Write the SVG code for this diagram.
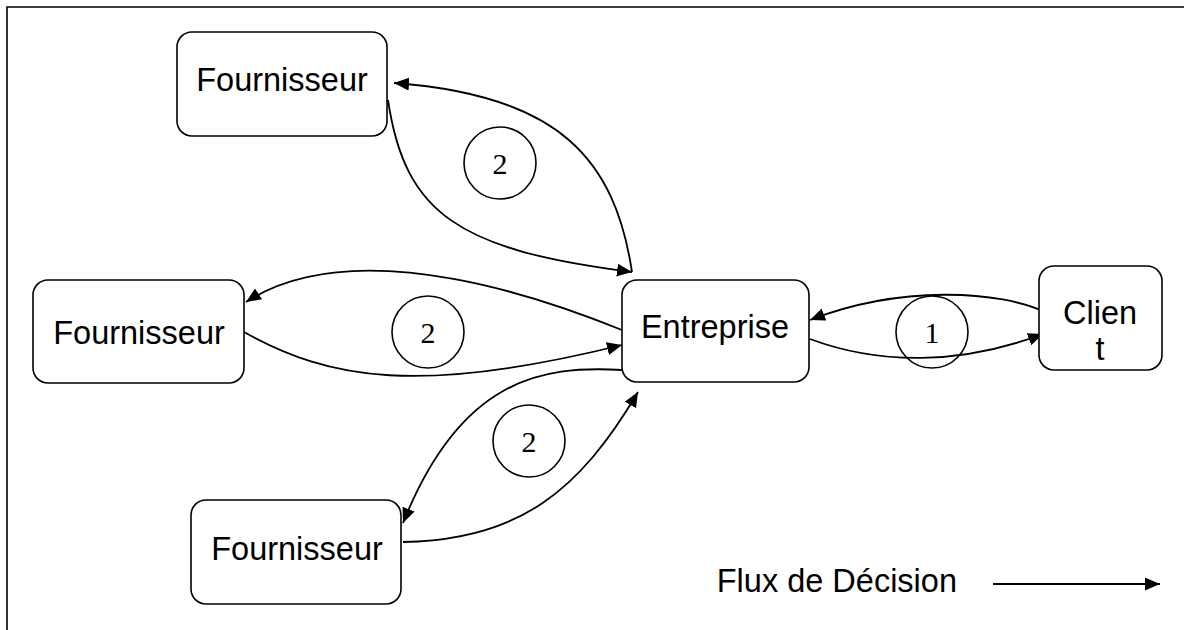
<svg xmlns="http://www.w3.org/2000/svg" width="1184" height="630" viewBox="0 0 1184 630">
<style>
.box{fill:#fff;stroke:#000;stroke-width:1.6}
.lbl{font-family:"Liberation Sans",Arial,sans-serif;font-size:32.5px;fill:#000;text-anchor:middle}
.num{font-family:"Liberation Serif","Times New Roman",serif;font-size:30px;fill:#000;text-anchor:middle}
.circ{fill:none;stroke:#000;stroke-width:1.6}
.con{fill:none;stroke:#000;stroke-width:1.8}
</style>
<defs>
<marker id="ah" markerUnits="userSpaceOnUse" markerWidth="16" markerHeight="14" refX="15" refY="6.5" orient="auto">
<path d="M0,0 L15,6.5 L0,13 z" fill="#000"/>
</marker>
</defs>
<rect width="1184" height="630" fill="#fff"/>
<path d="M7,630 V7 H1184" fill="none" stroke="#000" stroke-width="1.6"/>

<g id="connectors">
<path class="con" d="M632,272 C615,160 560,95 394,83" marker-end="url(#ah)"/>
<path class="con" d="M388,100 C405,215 460,250 632,272" marker-end="url(#ah)"/>
<path class="con" d="M622,330 C560,305 360,228 246,302" marker-end="url(#ah)"/>
<path class="con" d="M244,332 C330,380 420,395 622,345" marker-end="url(#ah)"/>
<path class="con" d="M622,370 C540,365 460,380 403,523" marker-end="url(#ah)"/>
<path class="con" d="M403,542 C520,540 580,490 638,392" marker-end="url(#ah)"/>
<path class="con" d="M1047,313 C1000,290 900,285 810,320" marker-end="url(#ah)"/>
<path class="con" d="M810,339 C880,365 960,365 1043,334" marker-end="url(#ah)"/>
</g>

<g id="fournisseur-top">
<rect class="box" x="177" y="32" width="210" height="104" rx="15"/>
<text class="lbl" x="282" y="91">Fournisseur</text>
</g>
<g id="fournisseur-mid">
<rect class="box" x="33" y="280" width="211" height="103" rx="15"/>
<text class="lbl" x="139" y="344">Fournisseur</text>
</g>
<g id="fournisseur-bottom">
<rect class="box" x="191" y="500" width="210" height="104" rx="15"/>
<text class="lbl" x="297" y="560">Fournisseur</text>
</g>
<g id="entreprise">
<rect class="box" x="622" y="280" width="187" height="102" rx="15"/>
<text class="lbl" x="715" y="338">Entreprise</text>
</g>
<g id="client">
<rect class="box" x="1039" y="266" width="123" height="104" rx="15"/>
<text class="lbl" x="1100" y="324">Clien</text>
<text class="lbl" x="1100" y="360">t</text>
</g>

<g id="label-2-top">
<circle class="circ" cx="500" cy="163" r="36"/>
<text class="num" x="500" y="174">2</text>
</g>
<g id="label-2-mid">
<circle class="circ" cx="428" cy="332" r="36"/>
<text class="num" x="428" y="343">2</text>
</g>
<g id="label-2-bottom">
<circle class="circ" cx="529" cy="441" r="36"/>
<text class="num" x="529" y="452">2</text>
</g>
<g id="label-1">
<circle class="circ" cx="932" cy="332" r="36"/>
<text class="num" x="932" y="343">1</text>
</g>

<g id="legend">
<text class="lbl" x="957" y="592" style="text-anchor:end">Flux de Décision</text>
<path class="con" d="M993,584 H1160" marker-end="url(#ah)"/>
</g>
</svg>
